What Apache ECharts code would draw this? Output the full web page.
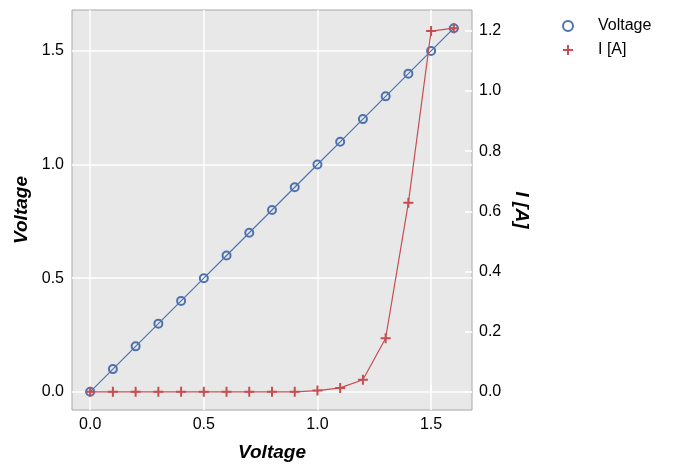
<!DOCTYPE html>
<html><head><meta charset="utf-8">
<script src="https://cdn.jsdelivr.net/npm/echarts@6/dist/echarts.min.js"></script>
<style>html,body{margin:0;padding:0;background:#fff}#c{width:674px;height:473px}</style>
</head><body><div id="c"></div>
<script>
const voltage = [0.0,0.1,0.2,0.3,0.4,0.5,0.6,0.7,0.8,0.9,1.0,1.1,1.2,1.3,1.4,1.5,1.6];
const voltageSeries = [0.0,0.1,0.2,0.3,0.4,0.5,0.6,0.7,0.8,0.9,1.0,1.1,1.2,1.3,1.4,1.5,1.6];
const current = [0,0,0,0,0,0,0,0,0,0,0.004,0.013,0.040,0.178,0.628,1.199,1.2085];
const xTicks = [0.0,0.5,1.0,1.5];
const leftTicks = [0.0,0.5,1.0,1.5];
const rightTicks = [0.0,0.2,0.4,0.6,0.8,1.0,1.2];

const BLUE = '#4c72b0', RED = '#c44e52';
const PLUS = 'path://M4,0 H6 V4 H10 V6 H6 V10 H4 V6 H0 V4 H4 Z';
const FONT = 'Liberation Sans';
const tickLbl = {color:'#000', fontSize:16, fontFamily:FONT};
const nameStyle = {color:'#000', fontSize:19, fontWeight:'bold', fontStyle:'italic', fontFamily:FONT};
const f1 = v => Number(v).toFixed(1);

const chart = echarts.init(document.getElementById('c'), null, {renderer:'canvas'});
chart.setOption({
  animation:false,
  backgroundColor:'#fff',
  grid:{left:72, top:10, width:400, height:400, show:true, backgroundColor:'#e8e8e8', borderColor:'#a8a8a8', borderWidth:1},
  legend:{
    orient:'vertical', left:557, top:13, itemGap:8, itemWidth:10, itemHeight:10,
    textStyle:{color:'#000', fontSize:16, fontFamily:FONT, padding:[0,0,0,20]},
    data:[
      {name:'Voltage', icon:'circle', itemStyle:{color:'transparent', borderColor:BLUE, borderWidth:2}},
      {name:'I [A]', icon:PLUS, itemStyle:{color:RED, borderWidth:0}}
    ]
  },
  xAxis:{
    type:'value', min:-0.08, max:1.68,
    name:'Voltage', nameLocation:'middle', nameGap:33, nameTextStyle:nameStyle,
    axisLine:{show:false},
    axisTick:{show:true, inside:true, length:6, customValues:xTicks, lineStyle:{color:'#fff', width:1.5}},
    axisLabel:Object.assign({margin:7, customValues:xTicks, formatter:f1}, tickLbl),
    splitLine:{show:true, lineStyle:{color:'#fff', width:1.5}}
  },
  yAxis:[
    {
      type:'value', min:-0.08, max:1.68,
      name:'Voltage', nameLocation:'middle', nameGap:41, nameMoveOverlap:false, nameTextStyle:nameStyle,
      axisLine:{show:false},
      axisTick:{show:false, customValues:leftTicks},
      axisLabel:Object.assign({margin:8, customValues:leftTicks, formatter:f1}, tickLbl),
      splitLine:{show:true, lineStyle:{color:'#fff', width:1.5}}
    },
    {
      type:'value', min:-0.0604, max:1.2689, position:'right',
      name:'I [A]', nameLocation:'middle', nameGap:40, nameRotate:-90, nameTextStyle:nameStyle,
      axisLine:{show:false},
      axisTick:{show:true, inside:true, length:7, customValues:rightTicks, lineStyle:{color:'#fff', width:1.5}},
      axisLabel:Object.assign({margin:7, customValues:rightTicks, formatter:f1}, tickLbl),
      splitLine:{show:false}
    }
  ],
  series:[
    {
      name:'Voltage', type:'line', yAxisIndex:0, color:BLUE,
      data: voltage.map((v,i)=>[v, voltageSeries[i]]),
      symbol:'circle', symbolSize:8,
      lineStyle:{color:BLUE, width:1.2, opacity:1},
      itemStyle:{color:'transparent', borderColor:BLUE, borderWidth:2},
      z:2
    },
    {
      name:'I [A]', type:'line', yAxisIndex:1, color:RED,
      data: voltage.map((v,i)=>[v, current[i]]),
      symbol:PLUS, symbolSize:10, symbolKeepAspect:true,
      lineStyle:{color:RED, width:1.2},
      itemStyle:{color:RED, borderWidth:0},
      z:3
    }
  ]
});
</script></body></html>
